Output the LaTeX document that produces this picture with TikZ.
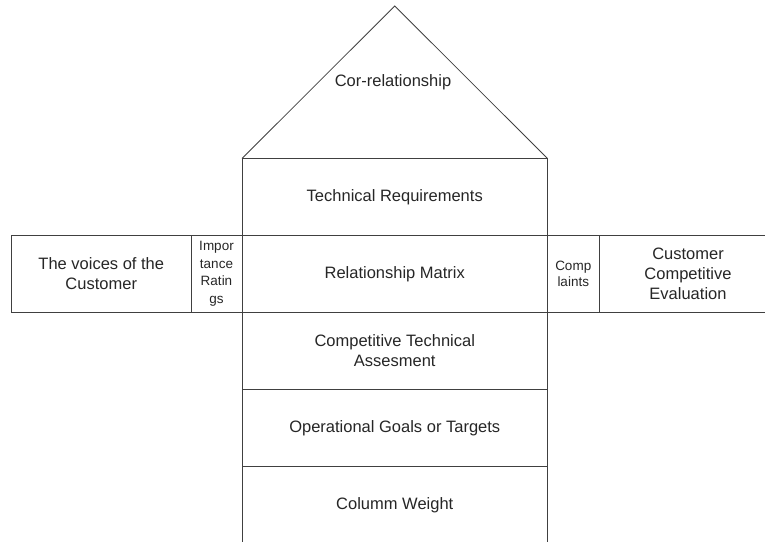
\documentclass[tikz,border=0pt]{standalone}
\usepackage{fontspec}
\setmainfont{Liberation Sans}
\usetikzlibrary{positioning}

\begin{document}
\begin{tikzpicture}[x=1pt, y=-1pt, node distance=0pt, line width=0.8pt,
    box/.style={draw=black!75, rectangle, inner sep=0pt, outer sep=0pt, align=center, text=black!85, font=\fontsize{16.5}{20}\selectfont},
    row/.style={box, minimum width=305.5pt, minimum height=77pt},
    small/.style={box, font=\fontsize{13.5}{17.5}\selectfont}]
    \useasboundingbox (0,0) rectangle (765,541);
    \clip (0,0) rectangle (765,541);

    \node (tech) [row, anchor=north west] at (242,158.5) {Technical Requirements};
    \node (relmatrix) [row, below=of tech] {Relationship Matrix};
    \node (assess) [row, below=of relmatrix] {Competitive Technical\\Assesment};
    \node (goals) [row, below=of assess] {Operational Goals or Targets};
    \node (weight) [row, below=of goals] {Columm Weight};

    \node (imp) [small, minimum width=51pt, minimum height=77pt, left=of relmatrix] {Impor\\tance\\Ratin\\gs};
    \node (voices) [box, minimum width=179.5pt, minimum height=77pt, left=of imp] {The voices of the\\Customer};
    \node (compl) [small, font=\fontsize{13.5}{15.5}\selectfont, minimum width=51.5pt, minimum height=77pt, right=of relmatrix] {Comp\\laints};
    \node (eval) [box, minimum width=178pt, minimum height=77pt, right=of compl] {Customer\\Competitive\\Evaluation};

    \coordinate (apex) at (394.75,6);
    \draw [draw=black!75] (tech.north west) -- (apex) -- (tech.north east);
    \node (roof) [box, draw=none] at (393,82) {Cor-relationship};
\end{tikzpicture}
\end{document}
